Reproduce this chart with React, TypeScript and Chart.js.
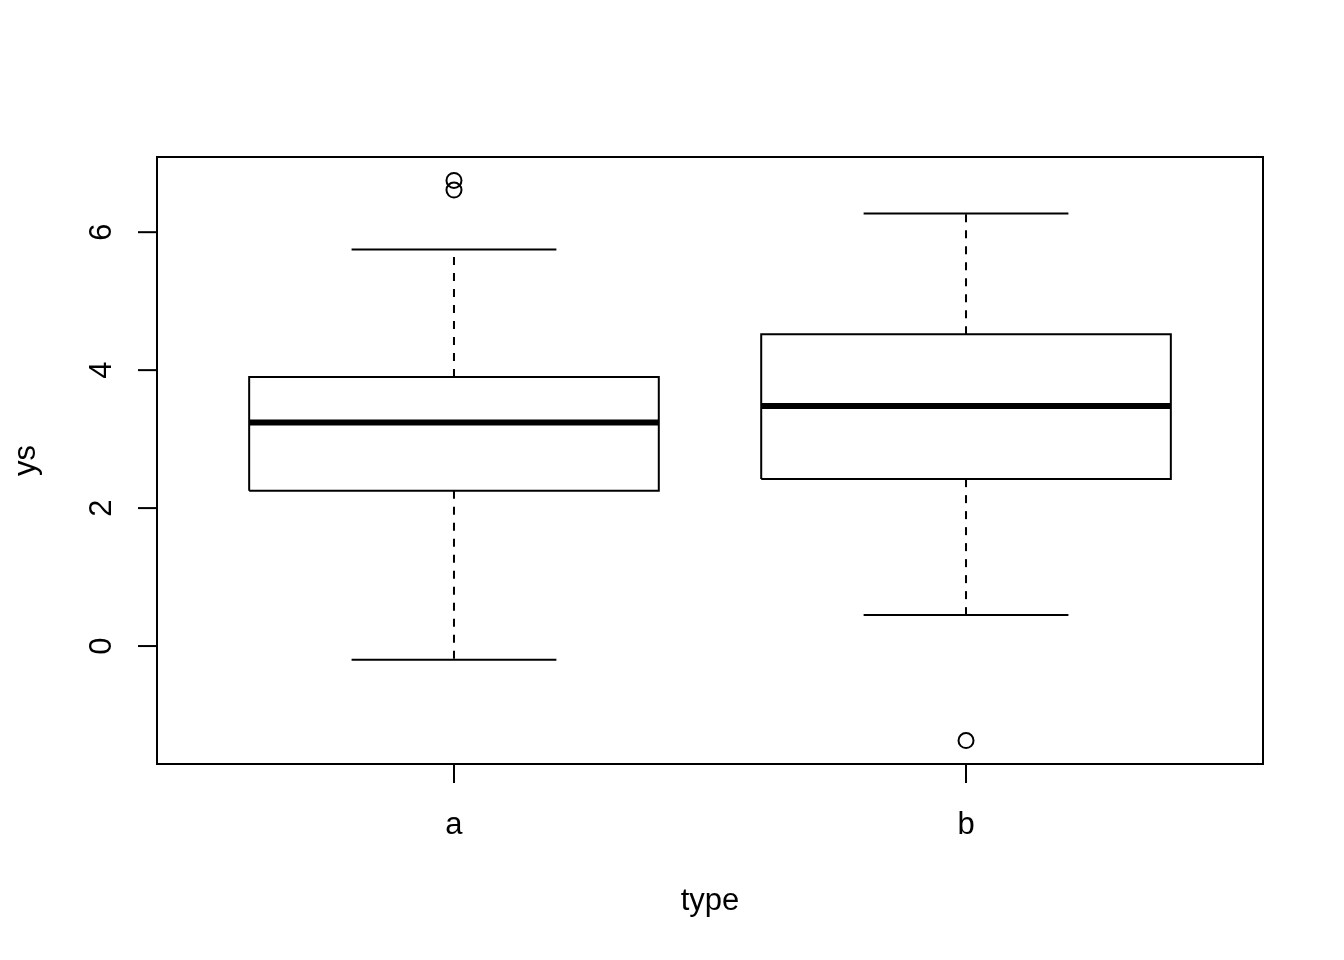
import React, { useEffect, useRef } from "react";
import { Chart, registerables } from "chart.js";

Chart.register(...registerables);

const categories = ["a", "b"];
const categoryPositions = [1, 2];
const whiskerLow = [-0.2, 0.45];
const q1 = [2.25, 2.42];
const median = [3.24, 3.48];
const q3 = [3.9, 4.52];
const whiskerHigh = [5.75, 6.27];
const outliers = [[6.61, 6.75], [-1.37]];
const yTicks = [0, 2, 4, 6];
const yMin = -1.71;
const yMax = 7.09;
const xMin = 0.42;
const xMax = 2.58;
const boxHalf = 0.4;
const capHalf = 0.2;
const xTitle = "type";
const yTitle = "ys";

const FONT = "'Liberation Sans', Arial, Helvetica, sans-serif";

const frameAxesPlugin = {
  id: "rframe",
  afterDraw(chart: any) {
    const { ctx, chartArea, scales } = chart;
    const xs = scales.x;
    const ys = scales.y;
    ctx.save();
    ctx.strokeStyle = "#000";
    ctx.fillStyle = "#000";
    ctx.lineWidth = 2;
    ctx.strokeRect(chartArea.left, chartArea.top, chartArea.right - chartArea.left, chartArea.bottom - chartArea.top);
    const tickLen = 19;
    ctx.font = `31px ${FONT}`;
    // y ticks
    yTicks.forEach((v) => {
      const py = ys.getPixelForValue(v);
      ctx.beginPath();
      ctx.moveTo(chartArea.left - tickLen, py);
      ctx.lineTo(chartArea.left, py);
      ctx.stroke();
      ctx.save();
      ctx.translate(111, py);
      ctx.rotate(-Math.PI / 2);
      ctx.textAlign = "center";
      ctx.textBaseline = "alphabetic";
      ctx.fillText(String(v), 0, 0);
      ctx.restore();
    });
    // x ticks
    categories.forEach((c, i) => {
      const px = xs.getPixelForValue(categoryPositions[i]);
      ctx.beginPath();
      ctx.moveTo(px, chartArea.bottom);
      ctx.lineTo(px, chartArea.bottom + tickLen);
      ctx.stroke();
      ctx.textAlign = "center";
      ctx.textBaseline = "alphabetic";
      ctx.fillText(c, px, 834);
    });
    // titles
    ctx.textAlign = "center";
    ctx.fillText(xTitle, (chartArea.left + chartArea.right) / 2, 910);
    ctx.save();
    ctx.translate(35, (chartArea.top + chartArea.bottom) / 2);
    ctx.rotate(-Math.PI / 2);
    ctx.fillText(yTitle, 0, 0);
    ctx.restore();
    ctx.restore();
  },
};

function seg(points: { x: number; y: number }[], width: number, dash: number[] = []) {
  return {
    type: "scatter" as const,
    data: points,
    showLine: true,
    borderColor: "#000",
    backgroundColor: "#000",
    borderWidth: width,
    borderDash: dash,
    borderCapStyle: "butt",
    borderJoinStyle: "miter",
    pointRadius: 0,
    pointHoverRadius: 0,
    tension: 0,
    fill: false,
  };
}

export default function App() {
  const ref = useRef<HTMLCanvasElement | null>(null);
  useEffect(() => {
    if (!ref.current) return;
    const datasets: any[] = [];
    categories.forEach((_, i) => {
      const c = categoryPositions[i];
      datasets.push(seg([{ x: c, y: q3[i] }, { x: c, y: whiskerHigh[i] }], 2, [8, 8]));
      datasets.push(seg([{ x: c, y: q1[i] }, { x: c, y: whiskerLow[i] }], 2, [8, 8]));
      datasets.push(seg([{ x: c - capHalf, y: whiskerHigh[i] }, { x: c + capHalf, y: whiskerHigh[i] }], 2));
      datasets.push(seg([{ x: c - capHalf, y: whiskerLow[i] }, { x: c + capHalf, y: whiskerLow[i] }], 2));
      datasets.push(
        seg(
          [
            { x: c - boxHalf, y: q1[i] },
            { x: c + boxHalf, y: q1[i] },
            { x: c + boxHalf, y: q3[i] },
            { x: c - boxHalf, y: q3[i] },
            { x: c - boxHalf, y: q1[i] },
          ],
          2
        )
      );
      datasets.push(seg([{ x: c - boxHalf, y: median[i] }, { x: c + boxHalf, y: median[i] }], 6));
      datasets.push({
        type: "scatter",
        data: outliers[i].map((v) => ({ x: c, y: v })),
        showLine: false,
        pointStyle: "circle",
        pointRadius: 7.5,
        pointHoverRadius: 7.5,
        pointBorderWidth: 2,
        pointBorderColor: "#000",
        pointBackgroundColor: "rgba(0,0,0,0)",
      });
    });
    const chart = new Chart(ref.current, {
      type: "scatter",
      data: { datasets },
      options: {
        animation: false,
        responsive: false,
        devicePixelRatio: 1,
        layout: { padding: { left: 157, top: 157, right: 81, bottom: 196 } },
        plugins: { legend: { display: false }, tooltip: { enabled: false } },
        events: [],
        scales: {
          x: { type: "linear", min: xMin, max: xMax, display: false },
          y: { type: "linear", min: yMin, max: yMax, display: false },
        },
      },
      plugins: [frameAxesPlugin],
    } as any);
    return () => chart.destroy();
  }, []);
  return (
    <div style={{ position: "absolute", left: 0, top: 0, width: 1344, height: 960, background: "#fff" }}>
      <canvas ref={ref} width={1344} height={960} style={{ display: "block", width: 1344, height: 960 }} />
    </div>
  );
}
